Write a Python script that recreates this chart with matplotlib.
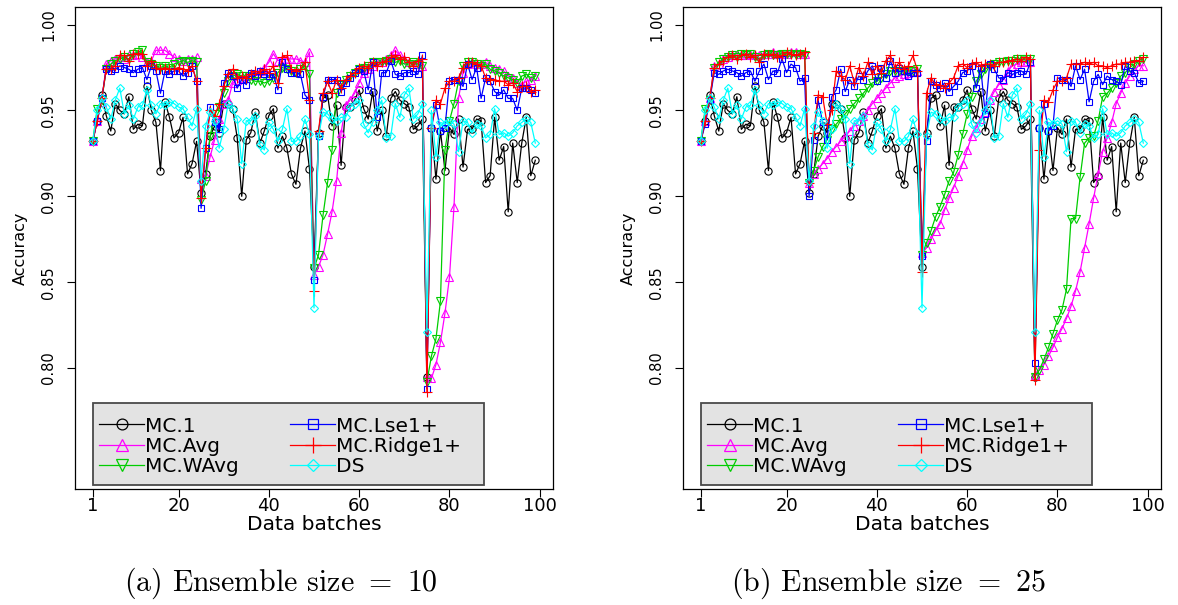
import numpy as np
import matplotlib
matplotlib.use("Agg")
import matplotlib.pyplot as plt
from matplotlib.lines import Line2D
from matplotlib.patches import Rectangle

plt.rcParams['font.family'] = ['DejaVu Sans']
plt.rcParams['mathtext.fontset'] = 'cm'

# ======================================
# DATA (batches 1..99)
# ======================================

batches = np.arange(1, 100)

# MC.1 and DS do not depend on ensemble size -> same in both panels
mc1 = [0.932, 0.944, 0.959, 0.947, 0.938, 0.954, 0.950, 0.948, 0.958, 0.939,
       0.942, 0.941, 0.964, 0.950, 0.943, 0.915, 0.955, 0.946, 0.934, 0.937,
       0.946, 0.913, 0.919, 0.932, 0.902, 0.913, 0.935, 0.941, 0.937, 0.954,
       0.954, 0.951, 0.934, 0.900, 0.933, 0.937, 0.949, 0.931, 0.938, 0.947,
       0.951, 0.928, 0.935, 0.928, 0.913, 0.907, 0.928, 0.938, 0.916, 0.859,
       0.937, 0.957, 0.959, 0.941, 0.953, 0.918, 0.952, 0.952, 0.956, 0.962,
       0.951, 0.945, 0.961, 0.938, 0.950, 0.935, 0.957, 0.961, 0.956, 0.954,
       0.952, 0.939, 0.941, 0.945, 0.795, 0.940, 0.910, 0.938, 0.915, 0.940,
       0.936, 0.945, 0.917, 0.939, 0.939, 0.945, 0.944, 0.908, 0.912, 0.946,
       0.921, 0.929, 0.891, 0.931, 0.908, 0.931, 0.946, 0.912, 0.921]

ds = [0.932, 0.950, 0.957, 0.952, 0.945, 0.956, 0.963, 0.948, 0.953, 0.945,
      0.952, 0.953, 0.962, 0.953, 0.948, 0.954, 0.953, 0.955, 0.954, 0.952,
      0.951, 0.946, 0.941, 0.951, 0.909, 0.941, 0.949, 0.944, 0.928, 0.939,
      0.954, 0.951, 0.945, 0.919, 0.944, 0.944, 0.947, 0.930, 0.927, 0.943,
      0.939, 0.932, 0.939, 0.951, 0.932, 0.932, 0.935, 0.945, 0.936, 0.835,
      0.935, 0.949, 0.948, 0.945, 0.944, 0.946, 0.946, 0.952, 0.954, 0.956,
      0.942, 0.937, 0.943, 0.950, 0.956, 0.934, 0.935, 0.954, 0.946, 0.959,
      0.963, 0.945, 0.948, 0.954, 0.821, 0.950, 0.923, 0.943, 0.942, 0.944,
      0.942, 0.926, 0.944, 0.943, 0.937, 0.942, 0.941, 0.934, 0.936, 0.951,
      0.936, 0.937, 0.935, 0.937, 0.941, 0.943, 0.945, 0.943, 0.931]

# ensemble size = 10
avg_10 = [0.932, 0.944, 0.955, 0.977, 0.979, 0.980, 0.981, 0.980, 0.982, 0.982,
          0.983, 0.981, 0.978, 0.979, 0.985, 0.985, 0.985, 0.983, 0.981, 0.980,
          0.979, 0.980, 0.980, 0.981, 0.910, 0.912, 0.923, 0.933, 0.945, 0.954,
          0.956, 0.966, 0.968, 0.969, 0.970, 0.971, 0.971, 0.973, 0.975, 0.978,
          0.983, 0.979, 0.980, 0.980, 0.980, 0.980, 0.979, 0.978, 0.984, 0.854,
          0.859, 0.866, 0.878, 0.891, 0.909, 0.937, 0.953, 0.956, 0.960, 0.966,
          0.972, 0.974, 0.976, 0.978, 0.978, 0.980, 0.982, 0.985, 0.982, 0.980,
          0.978, 0.977, 0.977, 0.976, 0.795, 0.794, 0.802, 0.815, 0.832, 0.853,
          0.894, 0.957, 0.972, 0.977, 0.978, 0.977, 0.977, 0.978, 0.976, 0.975,
          0.974, 0.973, 0.970, 0.969, 0.966, 0.965, 0.967, 0.968, 0.970]

wavg_10 = [0.932, 0.951, 0.956, 0.974, 0.977, 0.979, 0.980, 0.981, 0.980, 0.983,
           0.984, 0.985, 0.978, 0.977, 0.976, 0.975, 0.976, 0.975, 0.977, 0.978,
           0.979, 0.978, 0.979, 0.978, 0.898, 0.909, 0.935, 0.948, 0.952, 0.960,
           0.967, 0.970, 0.971, 0.970, 0.970, 0.968, 0.967, 0.967, 0.966, 0.967,
           0.969, 0.972, 0.975, 0.974, 0.973, 0.972, 0.974, 0.976, 0.971, 0.858,
           0.866, 0.889, 0.908, 0.927, 0.960, 0.965, 0.968, 0.970, 0.972, 0.974,
           0.975, 0.976, 0.978, 0.978, 0.978, 0.979, 0.980, 0.978, 0.979, 0.977,
           0.977, 0.978, 0.977, 0.976, 0.792, 0.807, 0.817, 0.839, 0.927, 0.944,
           0.954, 0.967, 0.976, 0.978, 0.978, 0.977, 0.976, 0.977, 0.974, 0.973,
           0.972, 0.970, 0.969, 0.968, 0.966, 0.970, 0.971, 0.969, 0.970]

lse_10 = [0.932, 0.944, 0.957, 0.974, 0.973, 0.974, 0.976, 0.975, 0.974, 0.972,
          0.974, 0.975, 0.968, 0.976, 0.973, 0.960, 0.973, 0.971, 0.973, 0.973,
          0.970, 0.972, 0.976, 0.967, 0.893, 0.928, 0.952, 0.943, 0.939, 0.966,
          0.972, 0.970, 0.963, 0.968, 0.965, 0.972, 0.970, 0.973, 0.971, 0.970,
          0.971, 0.962, 0.978, 0.974, 0.972, 0.972, 0.971, 0.959, 0.956, 0.851,
          0.935, 0.958, 0.968, 0.968, 0.968, 0.961, 0.966, 0.969, 0.972, 0.974,
          0.973, 0.962, 0.978, 0.946, 0.972, 0.972, 0.979, 0.971, 0.970, 0.972,
          0.972, 0.973, 0.971, 0.982, 0.788, 0.940, 0.953, 0.938, 0.940, 0.967,
          0.968, 0.968, 0.964, 0.977, 0.968, 0.975, 0.957, 0.969, 0.967, 0.961,
          0.959, 0.962, 0.957, 0.957, 0.950, 0.963, 0.963, 0.962, 0.960]

ridge_10 = [0.932, 0.944, 0.957, 0.974, 0.974, 0.976, 0.982, 0.982, 0.979, 0.983,
            0.983, 0.983, 0.976, 0.979, 0.975, 0.974, 0.975, 0.974, 0.974, 0.975,
            0.974, 0.973, 0.976, 0.967, 0.899, 0.928, 0.950, 0.947, 0.954, 0.964,
            0.971, 0.974, 0.969, 0.970, 0.969, 0.971, 0.973, 0.972, 0.974, 0.972,
            0.976, 0.966, 0.981, 0.982, 0.974, 0.973, 0.974, 0.978, 0.956, 0.845,
            0.938, 0.960, 0.967, 0.960, 0.968, 0.963, 0.968, 0.970, 0.972, 0.975,
            0.976, 0.975, 0.978, 0.976, 0.978, 0.979, 0.981, 0.982, 0.980, 0.981,
            0.978, 0.976, 0.979, 0.980, 0.786, 0.940, 0.956, 0.954, 0.963, 0.967,
            0.967, 0.969, 0.975, 0.978, 0.978, 0.977, 0.976, 0.969, 0.968, 0.968,
            0.967, 0.967, 0.965, 0.966, 0.961, 0.964, 0.964, 0.961, 0.962]

# ensemble size = 25
avg_25 = [0.932, 0.944, 0.957, 0.976, 0.977, 0.980, 0.981, 0.982, 0.982, 0.982,
          0.982, 0.983, 0.982, 0.982, 0.983, 0.983, 0.984, 0.983, 0.983, 0.983,
          0.984, 0.984, 0.983, 0.983, 0.908, 0.913, 0.916, 0.919, 0.922, 0.926,
          0.929, 0.932, 0.935, 0.938, 0.941, 0.944, 0.947, 0.950, 0.954, 0.957,
          0.960, 0.963, 0.966, 0.969, 0.970, 0.971, 0.972, 0.973, 0.973, 0.867,
          0.870, 0.875, 0.880, 0.884, 0.892, 0.899, 0.905, 0.912, 0.919, 0.927,
          0.935, 0.940, 0.945, 0.949, 0.956, 0.961, 0.965, 0.968, 0.973, 0.976,
          0.977, 0.978, 0.978, 0.978, 0.796, 0.799, 0.802, 0.807, 0.812, 0.818,
          0.823, 0.829, 0.836, 0.845, 0.856, 0.870, 0.884, 0.899, 0.913, 0.926,
          0.934, 0.943, 0.954, 0.960, 0.966, 0.970, 0.974, 0.976, 0.976]

wavg_25 = [0.932, 0.951, 0.956, 0.975, 0.978, 0.980, 0.981, 0.982, 0.981, 0.983,
           0.982, 0.983, 0.981, 0.980, 0.982, 0.983, 0.982, 0.982, 0.983, 0.983,
           0.983, 0.982, 0.983, 0.982, 0.908, 0.915, 0.923, 0.929, 0.933, 0.939,
           0.942, 0.945, 0.948, 0.951, 0.954, 0.957, 0.960, 0.963, 0.966, 0.967,
           0.969, 0.971, 0.973, 0.973, 0.973, 0.973, 0.973, 0.973, 0.974, 0.866,
           0.873, 0.880, 0.888, 0.894, 0.901, 0.909, 0.914, 0.924, 0.936, 0.948,
           0.958, 0.967, 0.971, 0.974, 0.976, 0.977, 0.978, 0.978, 0.979, 0.979,
           0.980, 0.980, 0.980, 0.980, 0.795, 0.799, 0.805, 0.812, 0.820, 0.828,
           0.834, 0.846, 0.887, 0.887, 0.911, 0.931, 0.934, 0.935, 0.944, 0.958,
           0.960, 0.963, 0.966, 0.970, 0.972, 0.975, 0.977, 0.979, 0.980]

lse_25 = [0.932, 0.942, 0.956, 0.972, 0.971, 0.973, 0.974, 0.973, 0.972, 0.970,
          0.972, 0.973, 0.967, 0.973, 0.977, 0.968, 0.973, 0.972, 0.980, 0.972,
          0.977, 0.975, 0.967, 0.969, 0.900, 0.933, 0.956, 0.943, 0.933, 0.958,
          0.962, 0.974, 0.961, 0.968, 0.964, 0.970, 0.968, 0.973, 0.976, 0.967,
          0.975, 0.969, 0.979, 0.972, 0.975, 0.973, 0.970, 0.972, 0.972, 0.865,
          0.932, 0.967, 0.965, 0.963, 0.966, 0.961, 0.964, 0.967, 0.972, 0.973,
          0.976, 0.963, 0.975, 0.948, 0.977, 0.974, 0.969, 0.968, 0.972, 0.971,
          0.972, 0.973, 0.971, 0.978, 0.803, 0.940, 0.954, 0.938, 0.941, 0.969,
          0.968, 0.968, 0.964, 0.976, 0.968, 0.974, 0.955, 0.967, 0.971, 0.965,
          0.970, 0.968, 0.967, 0.965, 0.976, 0.973, 0.972, 0.966, 0.967]

ridge_25 = [0.932, 0.944, 0.957, 0.975, 0.977, 0.979, 0.981, 0.982, 0.980, 0.982,
            0.983, 0.981, 0.982, 0.978, 0.983, 0.982, 0.983, 0.981, 0.982, 0.984,
            0.983, 0.982, 0.983, 0.984, 0.908, 0.937, 0.959, 0.958, 0.942, 0.950,
            0.973, 0.970, 0.968, 0.976, 0.966, 0.975, 0.970, 0.978, 0.971, 0.976,
            0.972, 0.979, 0.982, 0.975, 0.978, 0.974, 0.976, 0.982, 0.973, 0.856,
            0.960, 0.969, 0.965, 0.965, 0.963, 0.966, 0.969, 0.976, 0.977, 0.975,
            0.977, 0.978, 0.976, 0.977, 0.977, 0.976, 0.978, 0.978, 0.979, 0.979,
            0.980, 0.979, 0.981, 0.980, 0.793, 0.927, 0.956, 0.955, 0.962, 0.967,
            0.967, 0.969, 0.977, 0.977, 0.977, 0.978, 0.977, 0.978, 0.976, 0.976,
            0.975, 0.976, 0.977, 0.977, 0.978, 0.978, 0.979, 0.979, 0.981]

labels = ['MC.1', 'MC.Avg', 'MC.WAvg', 'MC.Lse1+', 'MC.Ridge1+', 'DS']
colors = ['black', '#FF00FF', '#00CD00', '#0000FF', '#FF0000', '#00FFFF']
markers = ['o', '^', 'v', 's', '+', 'D']
msizes = [5.2, 6.0, 6.0, 4.6, 7.5, 4.4]

panels = [
    ('(a) Ensemble size $=$ 10', [mc1, avg_10, wavg_10, lse_10, ridge_10, ds]),
    ('(b) Ensemble size $=$ 25', [mc1, avg_25, wavg_25, lse_25, ridge_25, ds]),
]

xticks = [1, 20, 40, 60, 80, 100]
yticks = [0.80, 0.85, 0.90, 0.95, 1.00]

# ======================================
# FIGURE
# ======================================

W, H = 1178, 605
fig = plt.figure(figsize=(W / 100, H / 100), dpi=100)

ax_lefts = [75, 683]
ax_w = 478
ax_top, ax_bot = 6.7, 489
ax_h = ax_bot - ax_top

for (caption, series), left in zip(panels, ax_lefts):
    ax = fig.add_axes([left / W, 1 - ax_bot / H, ax_w / W, ax_h / H])

    for vals, lab, c, m, ms in zip(series, labels, colors, markers, msizes):
        assert len(vals) == len(batches)
        ax.plot(batches, vals, color=c, lw=0.9, marker=m, ms=ms,
                mfc='none', mec=c, mew=0.8, label=lab)

    ax.set_xlim(-2.92, 102.92)
    ax.set_ylim(0.7296, 1.0104)
    ax.set_xticks(xticks)
    ax.set_xticklabels([str(t) for t in xticks], fontsize=13)
    ax.set_yticks(yticks)
    ax.set_yticklabels(['%.2f' % t for t in yticks], fontsize=10.5,
                       rotation=90, va='center')
    ax.tick_params(axis='x', direction='out', length=6, width=0.8, pad=0)
    ax.tick_params(axis='y', direction='out', length=6, width=0.8, pad=7.5)
    for sp in ax.spines.values():
        sp.set_linewidth(0.9)

    ax.set_xlabel('Data batches', fontsize=14.5)
    ax.xaxis.set_label_coords(0.5, -(530 - ax_bot) / ax_h)
    ax.xaxis.label.set_verticalalignment('baseline')
    ax.set_ylabel('Accuracy', fontsize=11.5)
    ax.yaxis.set_label_coords(-55 / ax_w, 0.5)
    ax.yaxis.label.set_verticalalignment('center')

    # legend box (grey, drawn over the plot) + two legend columns
    fx = lambda px: (px - left) / ax_w
    fy = lambda py: (ax_bot - py) / ax_h
    ax.add_patch(Rectangle((fx(left + 18), fy(485)), 391 / ax_w,
                           fy(402.7) - fy(485), transform=ax.transAxes,
                           facecolor='#E3E3E3', edgecolor='#4A4A4A',
                           lw=1.3, zorder=4.5))
    handles = [Line2D([], [], color=c, lw=0.9, marker=m, ms=ms * 1.5,
                      mfc='none', mec=c, mew=0.9)
               for c, m, ms in zip(colors, markers, msizes)]
    col_x = [left + 24, left + 215]
    legs = []
    for k in range(2):
        leg = ax.legend(handles[3 * k:3 * k + 3], labels[3 * k:3 * k + 3],
                        loc='upper left', bbox_to_anchor=(fx(col_x[k]), fy(416.5)),
                        frameon=False, fontsize=14.5, handlelength=2.25,
                        handletextpad=0.05, labelspacing=0.06, borderpad=0,
                        borderaxespad=0, numpoints=1)
        leg.set_zorder(5)
        legs.append(leg)
    ax.add_artist(legs[0])

    fig.text((left + 206) / W, 1 - 583 / H, caption, fontfamily='cmr10',
             fontsize=21.5, ha='center', va='center')

fig.savefig('out.png', dpi=100)
